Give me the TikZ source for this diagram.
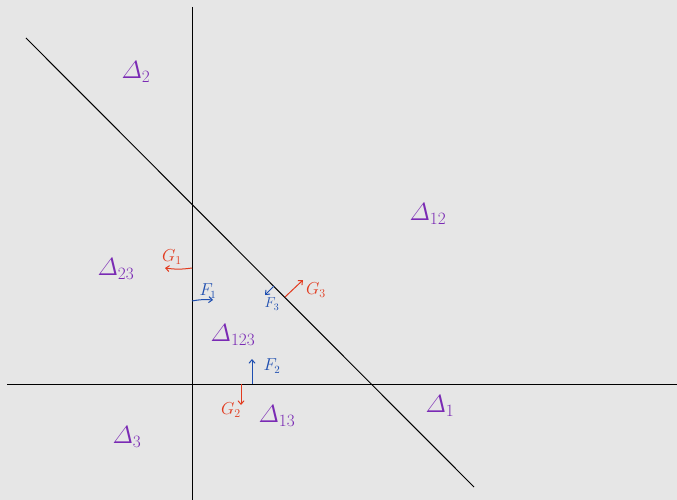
\documentclass[tikz,border=0pt]{standalone}
\usepackage{amsmath}
\usetikzlibrary{arrows.meta}
\definecolor{bgcol}{RGB}{230,230,230}
\definecolor{regpurple}{RGB}{122,42,180}
\definecolor{gred}{RGB}{226,58,30}
\definecolor{fblue}{RGB}{30,78,176}
\begin{document}
\begin{tikzpicture}[x=1pt,y=-1pt,
  axis/.style={draw=black,line width=1pt},
  region/.style={text=regpurple,font=\fontsize{24}{24}\selectfont,inner sep=0pt},
  glab/.style={text=gred,font=\fontsize{17}{17}\selectfont,inner sep=0pt},
  flab/.style={text=fblue,font=\fontsize{16}{16}\selectfont,inner sep=0pt},
  garrow/.style={draw=gred,line width=1pt,-{Straight Barb[length=3.5pt,width=6pt]}},
  farrow/.style={draw=fblue,line width=1pt,-{Straight Barb[length=3.5pt,width=6pt]}}]
\fill[bgcol] (0,0) rectangle (677,500);
\useasboundingbox (0,0) rectangle (677,500);
% lines
\coordinate (vt) at (192,7);
\coordinate (vb) at (192,500);
\coordinate (hl) at (7,384);
\coordinate (hr) at (677,384);
\coordinate (dt) at (26,38);
\coordinate (db) at (474,487);
\draw[axis] (vt) -- (vb);
\draw[axis] (hl) -- (hr);
\draw[axis] (dt) -- (db);
% region labels
\node[region] (d2) at (136,72) {$\varDelta_{2}$};
\node[region] (d12) at (428,214) {$\varDelta_{12}$};
\node[region] (d23) at (116,269) {$\varDelta_{23}$};
\node[region] (d123) at (233,335) {$\varDelta_{123}$};
\node[region] (d13) at (277,416) {$\varDelta_{13}$};
\node[region] (d1) at (440,406) {$\varDelta_{1}$};
\node[region] (d3) at (127,437) {$\varDelta_{3}$};
% arrow anchor points
\coordinate (g1s) at (192,268);
\coordinate (g1e) at (165,268);
\coordinate (f1s) at (192,301);
\coordinate (f1e) at (213,300);
\coordinate (f2s) at (252,384);
\coordinate (f2e) at (252,359);
\coordinate (g2s) at (241,384);
\coordinate (g2e) at (241,405);
\coordinate (g3s) at (285,297);
\coordinate (g3e) at (303,280);
\coordinate (f3s) at (274,286);
\coordinate (f3e) at (265,295);
\draw[garrow] (g1s) to[bend left=8] (g1e);
\draw[farrow] (f1s) to[bend left=8] (f1e);
\draw[farrow] (f2s) -- (f2e);
\draw[garrow] (g2s) -- (g2e);
\draw[garrow] (g3s) -- (g3e);
\draw[farrow] (f3s) -- (f3e);
% force labels
\node[glab] (G1) at (172,257) {$G_{1}$};
\node[flab] (F1) at (208,291) {$F_{1}$};
\node[flab] (F2) at (272,366) {$F_{2}$};
\node[glab] (G2) at (231,410) {$G_{2}$};
\node[glab] (G3) at (316,290) {$G_{3}$};
\node[flab,font=\fontsize{14}{14}\selectfont] (F3) at (272,304) {$F_{3}$};
\end{tikzpicture}
\end{document}
